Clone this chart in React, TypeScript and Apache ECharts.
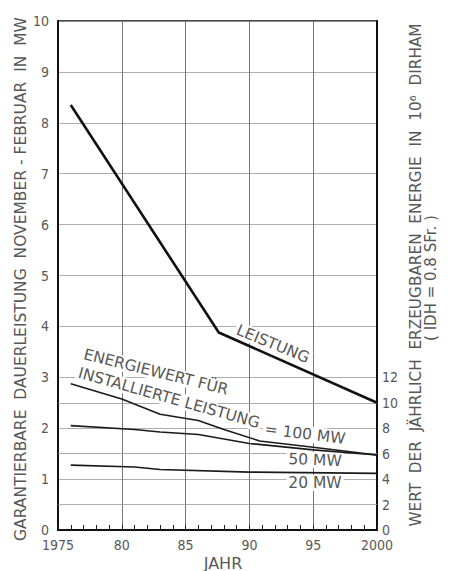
import React, { useEffect, useRef } from "react";
import * as echarts from "echarts";

// ---- data ----
const leistungYears = [1976, 1987.6, 2000];
const leistungValues = [8.35, 3.88, 2.5]; // MW (left axis)

const years100 = [1976, 1980, 1983, 1986, 1988, 1990.8, 1995, 2000];
const values100 = [11.5, 10.3, 9.1, 8.6, 7.9, 7.0, 6.5, 5.9]; // 10^6 DH (right axis)

const years50 = [1976, 1981, 1983, 1986, 1990, 1995, 2000];
const values50 = [8.2, 7.9, 7.7, 7.5, 6.8, 6.3, 5.9];

const years20 = [1976, 1981, 1983, 1990, 2000];
const values20 = [5.1, 4.95, 4.75, 4.55, 4.45];

const rightHalfLines = [2, 6, 10];

const leftTitle = "GARANTIERBARE  DAUERLEISTUNG  NOVEMBER - FEBRUAR  IN  MW";
const rightTitle1 = "WERT  DER  JÄHRLICH  ERZEUGBAREN  ENERGIE  IN  10⁶  DIRHAM";
const rightTitle2 = "( IDH = 0.8 SFr. )";
const xTitle = "JAHR";

const zip = (xs: number[], ys: number[]) => xs.map((x, i) => [x, ys[i]]);

const FONT = '"DejaVu Sans", sans-serif';
const NARROW = '"Liberation Sans Narrow", "DejaVu Sans Condensed", sans-serif';
const TXT = "#575757";

export default function App() {
  const ref = useRef<HTMLDivElement>(null);
  useEffect(() => {
    document.body.style.margin = "0";
    const chart = echarts.init(ref.current!, null, { renderer: "svg" });
    const ann = (
      text: string,
      x: number,
      y: number,
      rot: number,
      size = 15.5,
      bg = true
    ) => ({
      type: "text",
      x,
      y,
      rotation: rot,
      z: 3,
      style: {
        text,
        font: `${size}px ${FONT}`,
        fill: TXT,
        align: "center",
        verticalAlign: "middle",
        backgroundColor: bg ? "#fff" : undefined,
        padding: bg ? [0, 2] : 0,
      },
    });
    chart.setOption({
      animation: false,
      backgroundColor: "#fff",
      grid: {
        left: 58,
        right: 73,
        top: 21,
        bottom: 41,
        show: true,
        borderColor: "#111",
        borderWidth: 1.5,
      },
      xAxis: {
        type: "value",
        min: 1975,
        max: 2000,
        interval: 5,
        axisLine: { lineStyle: { color: "#111", width: 2 } },
        axisTick: { show: true, inside: true, length: 5, lineStyle: { color: "#222" } },
        minorTick: { show: true, splitNumber: 5, length: 5, lineStyle: { color: "#222" } },
        splitLine: { show: true, lineStyle: { color: "#777", width: 1 } },
        axisLabel: {
          margin: 8,
          color: TXT,
          fontFamily: NARROW,
          fontSize: 14,
          formatter: (v: number) =>
            v === 1975 || v === 2000 ? String(v) : String(v).slice(2),
        },
      },
      yAxis: [
        {
          type: "value",
          min: 0,
          max: 10,
          interval: 1,
          axisLine: { show: true, lineStyle: { color: "#111", width: 2 } },
          axisTick: { show: false },
          splitLine: { show: true, lineStyle: { color: "#999", width: 0.8 } },
          axisLabel: { margin: 9, color: TXT, fontFamily: NARROW, fontSize: 14 },
        },
        {
          type: "value",
          position: "right",
          min: 0,
          max: 40,
          interval: 2,
          axisLine: { show: true, lineStyle: { color: "#111", width: 2 } },
          axisTick: { show: false },
          splitLine: { show: false },
          axisLabel: {
            margin: 5,
            color: TXT,
            fontFamily: NARROW,
            fontSize: 14,
            formatter: (v: number) => (v <= 12 ? String(v) : ""),
          },
        },
      ],
      series: [
        {
          type: "line",
          yAxisIndex: 0,
          data: zip(leistungYears, leistungValues),
          symbol: "none",
          z: 4,
          lineStyle: { color: "#111", width: 2.6 },
        },
        {
          type: "line",
          yAxisIndex: 1,
          data: zip(years100, values100),
          symbol: "none",
          z: 4,
          lineStyle: { color: "#1a1a1a", width: 1.6 },
        },
        {
          type: "line",
          yAxisIndex: 1,
          data: zip(years50, values50),
          symbol: "none",
          z: 4,
          lineStyle: { color: "#1a1a1a", width: 1.6 },
        },
        {
          type: "line",
          yAxisIndex: 1,
          data: zip(years20, values20),
          symbol: "none",
          z: 4,
          lineStyle: { color: "#1a1a1a", width: 1.6 },
          markLine: {
            z: 1,
            silent: true,
            symbol: ["none", "none"],
            label: { show: false },
            lineStyle: { color: "#999", width: 0.8, type: "solid" },
            data: rightHalfLines.map((v) => ({ yAxis: v })),
          },
        },
      ],
      graphic: [
        ann(leftTitle, 21, 279, Math.PI / 2, 15.5, false),
        ann(rightTitle1, 416, 275, Math.PI / 2, 15.3, false),
        ann(rightTitle2, 431, 278, Math.PI / 2, 15, false),
        ann(xTitle, 223, 563, 0, 16, false),
        ann("LEISTUNG", 273, 344, -0.39),
        ann("ENERGIEWERT FÜR", 156, 372, -0.244),
        ann("INSTALLIERTE LEISTUNG", 169, 398, -0.274),
        ann("= 100 MW", 305, 434, -0.122),
        ann("50 MW", 315, 460, -0.04),
        ann("20 MW", 315, 483, 0),
      ],
    });
    return () => chart.dispose();
  }, []);
  return <div ref={ref} style={{ width: 450, height: 571 }} />;
}
